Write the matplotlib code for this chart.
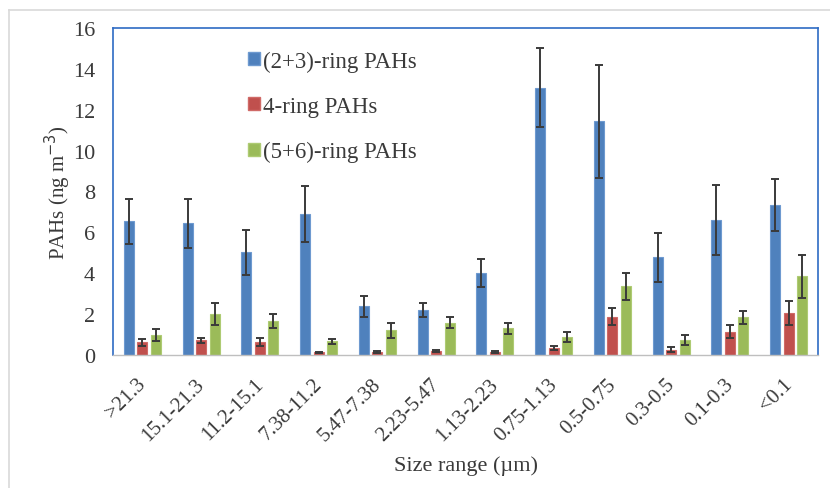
import numpy as np
import matplotlib
matplotlib.use("Agg")
import matplotlib.pyplot as plt
import matplotlib.transforms as mtransforms
from matplotlib.patches import Patch
from matplotlib.lines import Line2D

categories = [">21.3", "15.1-21.3", "11.2-15.1", "7.38-11.2", "5.47-7.38", "2.23-5.47",
              "1.13-2.23", "0.75-1.13", "0.5-0.75", "0.3-0.5", "0.1-0.3", "<0.1"]
ring23 = [6.55, 6.45, 5.03, 6.90, 2.38, 2.20, 4.02, 13.08, 11.44, 4.78, 6.60, 7.35]
ring23_err = [1.10, 1.20, 1.10, 1.35, 0.52, 0.33, 0.70, 1.94, 2.76, 1.19, 1.70, 1.27]
ring4 = [0.62, 0.72, 0.62, 0.13, 0.16, 0.21, 0.16, 0.36, 1.88, 0.26, 1.14, 2.07]
ring4_err = [0.16, 0.13, 0.20, 0.04, 0.04, 0.05, 0.04, 0.10, 0.41, 0.11, 0.31, 0.59]
ring56 = [0.98, 2.02, 1.66, 0.67, 1.22, 1.58, 1.31, 0.90, 3.36, 0.73, 1.84, 3.85]
ring56_err = [0.29, 0.53, 0.33, 0.11, 0.37, 0.28, 0.27, 0.24, 0.67, 0.25, 0.33, 1.05]
series_labels = ["(2+3)-ring PAHs", "4-ring PAHs", "(5+6)-ring PAHs"]
yticks = [0, 2, 4, 6, 8, 10, 12, 14, 16]

colors = ["#4F81BD", "#C0504D", "#9BBB59"]
edges = ["#6E9AD0", "#D06A67", "#AECB73"]
txt = "#3A3A3A"

plt.rcParams['font.family'] = ['Liberation Serif', 'DejaVu Serif']

fig = plt.figure(figsize=(8.3, 4.89), dpi=100)
ax = fig.add_axes([113/830, 1-356/489, (818-113)/830, (356-29)/489])

x = np.arange(len(categories))
w = 0.17
off = 0.23
data = [(ring23, ring23_err), (ring4, ring4_err), (ring56, ring56_err)]
for i, (vals, errs) in enumerate(data):
    ax.bar(x + (i - 1) * off, vals, width=w, color=colors[i], edgecolor=edges[i],
           linewidth=0.8, yerr=errs, capsize=3,
           error_kw=dict(ecolor="#3a3a3a", elinewidth=1.4, capthick=1.4), zorder=2)

ax.set_xlim(-0.5, len(categories) - 0.5)
ax.set_ylim(0, 16)
ax.set_yticks(yticks)
ax.set_yticklabels([str(t) for t in yticks], fontsize=16, color=txt)
ax.set_xticks(x)
ax.set_xticklabels(categories, rotation=45, ha="right", va="top",
                   rotation_mode="anchor", fontsize=15, color=txt)
ax.tick_params(axis="both", length=0)
ax.tick_params(axis="y", pad=13)
ax.tick_params(axis="x", pad=14)
shift = mtransforms.ScaledTranslation(-6/100, 0, fig.dpi_scale_trans)
for lab in ax.get_xticklabels():
    lab.set_transform(lab.get_transform() + shift)

for s in ["left", "top", "right"]:
    ax.spines[s].set_color("#2E6BC4")
    ax.spines[s].set_linewidth(1.2)
ax.spines["bottom"].set_color("#BFBFBF")
ax.spines["bottom"].set_linewidth(1.0)

ax.set_ylabel("PAHs (ng m$^{-3}$)", fontsize=15, color=txt, labelpad=0)
ax.set_xlabel("Size range (\u00b5m)", fontsize=16, color=txt, labelpad=8)

handles = [Patch(facecolor=colors[i], edgecolor=edges[i]) for i in range(3)]
leg = ax.legend(handles, series_labels, loc="upper left",
                bbox_to_anchor=(237/830, 1-40/489), bbox_transform=fig.transFigure,
                frameon=False, fontsize=16.5, handlelength=0.5, handleheight=0.5,
                handletextpad=0.15, labelspacing=1.06, borderpad=0)
for t in leg.get_texts():
    t.set_color(txt)

# outer light frame
fig.add_artist(Line2D([9/830, 9/830], [0, 1-11/489], transform=fig.transFigure,
                      color="#D9D9D9", linewidth=1.2))
fig.add_artist(Line2D([9/830, 1], [1-11/489, 1-11/489], transform=fig.transFigure,
                      color="#D9D9D9", linewidth=1.2))

fig.savefig("out.png", dpi=100)
